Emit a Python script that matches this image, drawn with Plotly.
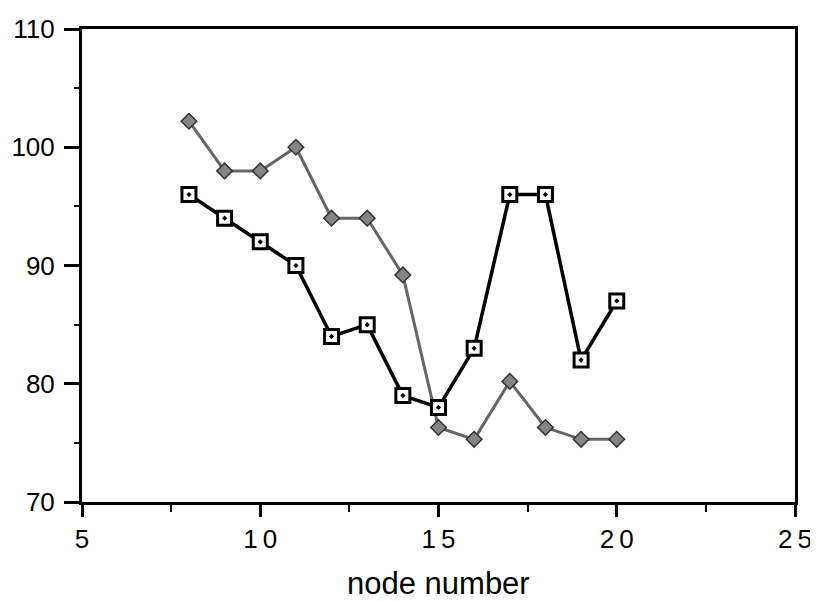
import plotly.graph_objects as go

nodes = [8, 9, 10, 11, 12, 13, 14, 15, 16, 17, 18, 19, 20]
square_series = [96, 94, 92, 90, 84, 85, 79, 78, 83, 96, 96, 82, 87]
diamond_series = [102.2, 98, 98, 100, 94, 94, 89.2, 76.3, 75.3, 80.2, 76.3, 75.3, 75.3]

x_tickvals = [5, 10, 15, 20, 25]
x_ticktext = ["5", "1\u20090", "1\u20095", "2\u20090", "2\u20095"]
y_tickvals = [70, 80, 90, 100, 110]
y_ticktext = ["70", "80", "90", "100", "110"]

fig = go.Figure()
fig.add_trace(go.Scatter(
    x=nodes, y=diamond_series, mode="lines+markers",
    line=dict(color="#666666", width=3),
    marker=dict(symbol="diamond", size=12, color="#858585",
                line=dict(color="#333333", width=1.5)),
    showlegend=False))
fig.add_trace(go.Scatter(
    x=nodes, y=square_series, mode="lines+markers",
    line=dict(color="black", width=3.5),
    marker=dict(symbol="square-dot", size=14, color="white",
                line=dict(color="black", width=3)),
    showlegend=False))

font_family = "Liberation Sans, Arial, sans-serif"
fig.update_layout(
    width=810, height=594,
    margin=dict(l=74, r=23, t=21, b=100),
    paper_bgcolor="white", plot_bgcolor="white",
    font=dict(family=font_family, color="black"),
    xaxis=dict(
        range=[5, 25], tickmode="array", tickvals=x_tickvals, ticktext=x_ticktext,
        ticks="outside", ticklen=12, tickwidth=2.5, tickcolor="black",
        minor=dict(dtick=2.5, ticks="outside", ticklen=7, tickwidth=2, tickcolor="black"),
        showline=True, linecolor="black", linewidth=3, mirror=True,
        showgrid=False, zeroline=False, automargin=False,
        tickfont=dict(size=26, family=font_family),
    ),
    yaxis=dict(
        range=[70, 110], tickmode="array", tickvals=y_tickvals, ticktext=y_ticktext,
        ticks="outside", ticklen=15, tickwidth=2.5, tickcolor="black",
        minor=dict(dtick=5, ticks="outside", ticklen=5, tickwidth=2, tickcolor="black"),
        showline=True, linecolor="black", linewidth=3, mirror=True,
        showgrid=False, zeroline=False, automargin=False,
        tickfont=dict(size=26, family=font_family),
        ticklabelstandoff=4,
    ),
    annotations=[dict(
        text="node number", xref="paper", yref="paper", x=0.5, y=-0.172,
        xanchor="center", yanchor="middle", showarrow=False,
        font=dict(size=31, family=font_family, color="black"),
    )],
)

fig.write_html("out.html")
